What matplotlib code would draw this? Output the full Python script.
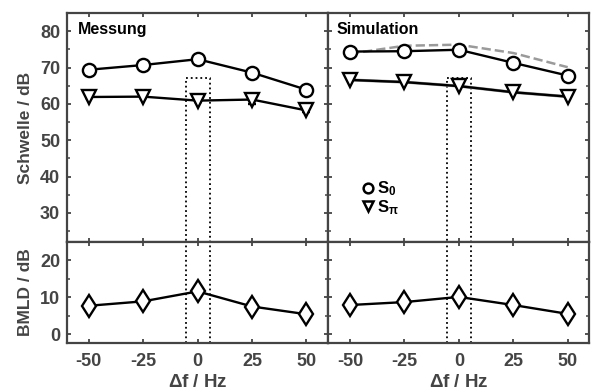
import numpy as np
import matplotlib
matplotlib.use('Agg')
import matplotlib.pyplot as plt
from matplotlib.lines import Line2D

plt.rcParams['font.family'] = ['Liberation Sans', 'DejaVu Sans']
plt.rcParams['font.weight'] = 'bold'
plt.rcParams['mathtext.fontset'] = 'custom'
plt.rcParams['mathtext.bf'] = 'Liberation Sans:bold'
plt.rcParams['mathtext.rm'] = 'Liberation Sans:bold'

# ── data ──────────────────────────────────────────────────────────────────────
df = [-50, -25, 0, 25, 50]

mess_s0 = [69.4, 70.7, 72.3, 68.6, 63.9]
mess_spi = [61.9, 62.0, 60.9, 61.2, 58.2]
mess_spi_err = [0.3, 0.3, 0.4, 1.2, 0.3]
mess_bmld = [7.7, 8.9, 11.6, 7.5, 5.4]
mess_bmld_err = [0.6, 1.3, 1.5, 1.4, 0.6]

sim_s0 = [74.4, 74.5, 74.9, 71.3, 67.8]
sim_s0_ref = [73.8, 76.0, 76.3, 74.0, 70.1]
sim_spi = [66.6, 66.0, 64.9, 63.2, 62.0]
sim_bmld = [7.9, 8.7, 10.1, 7.9, 5.5]

BAND = 5.5     # half width of dotted box (Hz)
BAND_TOP = 67.2

GREY = '#444444'
FS = 12

fig = plt.figure(figsize=(5.91, 3.92), dpi=100)
W = 0.442
ax_tl = fig.add_axes([0.1134, 0.3827, W, 0.584])
ax_tr = fig.add_axes([0.1134 + W, 0.3827, W, 0.584])
ax_bl = fig.add_axes([0.1134, 0.125, W, 0.2577])
ax_br = fig.add_axes([0.1134 + W, 0.125, W, 0.2577])

mk = dict(mfc='white', mec='black', mew=1.7, color='black', lw=1.7, zorder=4)

# upper panels
ax_tl.errorbar(df, mess_s0, fmt='-o', ms=9.5, **mk)
ax_tl.errorbar(df, mess_spi, yerr=mess_spi_err, fmt='-v', ms=10,
               capsize=3, elinewidth=1.7, capthick=1.7, **mk)

ax_tr.plot(df, sim_s0_ref, '--', color='#9a9a9a', lw=1.8, zorder=3)
ax_tr.plot(df, sim_spi, '-', color='#9a9a9a', lw=2.2, zorder=3)
ax_tr.plot(df, sim_s0, '-o', ms=9.5, **mk)
ax_tr.plot(df, sim_spi, '-v', ms=10, **mk)

# lower panels
ax_bl.errorbar(df, mess_bmld, yerr=mess_bmld_err, fmt='-d', ms=11.5,
               capsize=2, elinewidth=1.7, capthick=1.7, **mk)
ax_br.plot(df, sim_bmld, '-d', ms=11.5, **mk)

# dotted boxes around 0 Hz
for ax in (ax_tl, ax_tr):
    ax.plot([-BAND, -BAND, BAND, BAND], [0, BAND_TOP, BAND_TOP, 0],
            ls=':', color='black', lw=1.3, zorder=2)
for ax in (ax_bl, ax_br):
    ax.axvline(-BAND, ls=':', color='black', lw=1.3, zorder=2)
    ax.axvline(BAND, ls=':', color='black', lw=1.3, zorder=2)

for ax in (ax_tl, ax_tr, ax_bl, ax_br):
    ax.set_xlim(-60, 60)
    ax.set_xticks(df)
    ax.tick_params(direction='in', top=True, right=True, length=3,
                   width=1.3, color=GREY, labelcolor=GREY, labelsize=FS + 1,
                   pad=5)
    ax.tick_params(axis='x', pad=7)
    ax.tick_params(which='minor', direction='in', top=True, right=True,
                   length=2, width=1.1, color=GREY)
    for sp in ax.spines.values():
        sp.set_color(GREY)
        sp.set_linewidth(1.6)

for ax in (ax_tl, ax_tr):
    ax.set_ylim(22, 85)
    ax.set_yticks([30, 40, 50, 60, 70, 80])
    ax.set_yticks(np.arange(25, 85, 5), minor=True)
    ax.tick_params(labelbottom=False)
for ax in (ax_bl, ax_br):
    ax.set_ylim(-2.4, 25)
    ax.set_yticks([0, 10, 20])
    ax.set_yticks([5, 15], minor=True)
    ax.set_xticklabels(['-50', '-25', '0', '25', '50'])
    ax.set_xlabel(r'$\Delta$f / Hz', fontsize=FS + 1.5, color=GREY,
                  fontweight='bold', labelpad=3)
ax_tr.tick_params(labelleft=False)
ax_br.tick_params(labelleft=False)

ax_tl.set_ylabel('Schwelle / dB', fontsize=FS + 0.5, color=GREY,
                 fontweight='bold', labelpad=5)
ax_bl.set_ylabel('BMLD / dB', fontsize=FS + 0.5, color=GREY,
                 fontweight='bold', labelpad=5)

ax_tl.text(0.04, 0.96, 'Messung', transform=ax_tl.transAxes, ha='left',
           va='top', fontsize=FS - 0.5, fontweight='bold', color='black')
ax_tr.text(0.03, 0.96, 'Simulation', transform=ax_tr.transAxes, ha='left',
           va='top', fontsize=FS - 0.5, fontweight='bold', color='black')

handles = [
    Line2D([], [], ls='none', marker='o', ms=7, mfc='white', mec='black', mew=1.8),
    Line2D([], [], ls='none', marker='v', ms=7.5, mfc='white', mec='black', mew=1.8),
]
ax_tr.legend(handles, [r'$\mathbf{S_0}$', r'$\mathbf{S_\pi}$'], frameon=False,
             loc='upper left', bbox_to_anchor=(0.1, 0.31), handlelength=0.6,
             handletextpad=0.25, labelspacing=0.0, borderpad=0,
             prop=dict(size=FS, weight='bold'))

fig.savefig('out.png', dpi=100)
